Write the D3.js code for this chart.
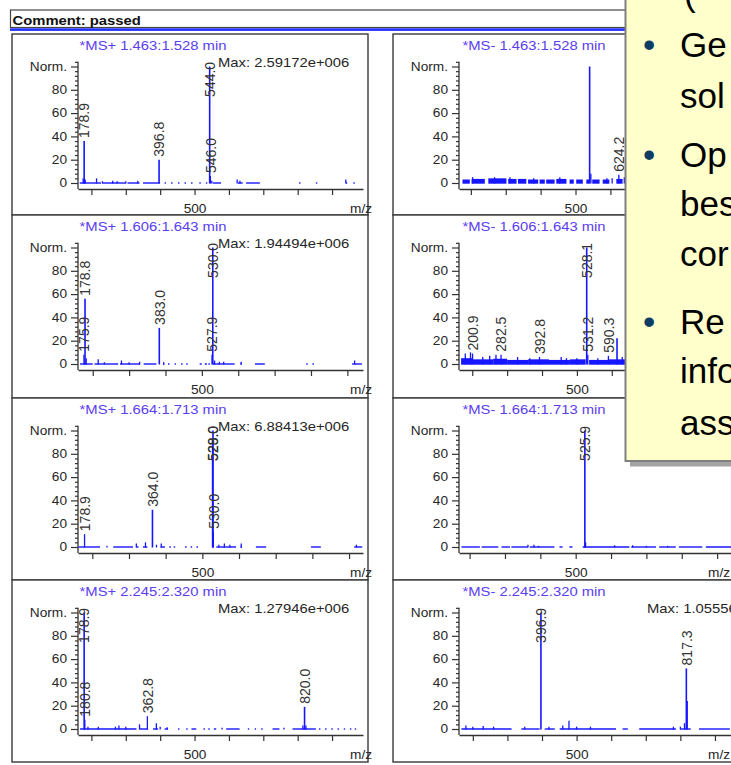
<!DOCTYPE html>
<html>
<head>
<meta charset="utf-8">
<script src="https://cdn.jsdelivr.net/npm/d3@7"></script>
<style>
body { margin: 0; background: #fff; }
svg { display: block; font-family: Arial, "Liberation Sans", sans-serif; }
</style>
</head>
<body>
<div id="root"></div>
<script>
const WIDTH = 731;
const HEIGHT = 765;
const PANEL_TOPS = [34, 215, 398, 580, 762];
const COL_LEFT = [12, 393];
const PANEL_W = 356;
const AX = {left: 66, right: 351, zero: 149, full: 32.5, base: 155};
const MAX_X = [206, 254];
const MZ_X = [338, 315];
const STRETCH = 1.14;
const BLUE = "#1616ff";
const INK = "#262626";
const NOTE_LEFT = 625.5;
const NOTE_BOTTOM = 461;

// panel titles, max intensities and m/z extents (row by row, MS+ left, MS- right)
const titles = [
    "*MS+ 1.463:1.528 min", "*MS- 1.463:1.528 min",
    "*MS+ 1.606:1.643 min", "*MS- 1.606:1.643 min",
    "*MS+ 1.664:1.713 min", "*MS- 1.664:1.713 min",
    "*MS+ 2.245:2.320 min", "*MS- 2.245:2.320 min"
];
const maxLabels = [
    "Max: 2.59172e+006", "",
    "Max: 1.94494e+006", "",
    "Max: 6.88413e+006", "",
    "Max: 1.27946e+006", "Max: 1.05556e+006"
];
const mzRanges = [
    [161, 990], [166, 983],
    [159.5, 943], [162, 979],
    [161, 938], [170, 976],
    [161, 990], [160, 984]
];

// peaks: [m/z, % intensity, labelled]
const pos1463 = [[176, 4], [178.9, 36, 1], [182, 3], [215, 4], [232, 1.5], [262, 2], [275, 1.5], [300, 1.5],
    [335, 2], [396.8, 20, 1], [544.0, 100, 1], [546.0, 6, 1], [550, 2], [624, 3], [632, 2], [940, 3]];
const neg1463 = [[205, 5], [268, 5], [312, 5], [380, 4], [455, 5], [540.5, 100], [544, 8], [590, 4],
    [605, 4], [624.2, 7, 1], [640, 5]];
const pos1606 = [[175.9, 8, 1], [178.8, 56, 1], [182, 5], [215, 4], [232, 1.5], [279, 3], [300, 1.5],
    [329, 2], [383.0, 31, 1], [395, 1.5], [527.9, 8, 1], [530.0, 100, 1], [535, 3], [548, 2], [560, 2],
    [608, 2], [920, 3]];
const neg1606 = [[180, 9], [195, 10], [200.9, 9, 1], [230, 6], [250, 7], [268, 8], [282.5, 8, 1], [330, 6],
    [365, 5], [392.8, 6, 1], [455, 6], [470, 5], [500, 5], [528.1, 100, 1], [531.2, 8, 1], [560, 5],
    [590.3, 7, 1], [615, 22], [630, 6]];
const pos1664 = [[178.9, 11, 1], [240, 1], [320, 3], [345, 4], [364.0, 32, 1], [375, 2], [388, 3],
    [528.0, 92, 1], [529.0, 100, 1], [530.0, 13, 1], [545, 2], [560, 3], [575, 2], [606, 3], [920, 2]];
const neg1664 = [[365, 2], [382, 2], [395, 1], [525.9, 100, 1], [528, 4], [610, 1.5], [661, 1.5],
    [700, 1], [760, 1]];
const pos2245 = [[178.9, 100, 1], [180.8, 8, 1], [190, 2], [220, 2], [270, 2], [280, 3], [300, 2], [340, 4],
    [362.8, 11, 1], [389, 5], [400, 2], [420, 1.5], [580, 1], [760, 1], [815, 3], [820.0, 19, 1], [824, 3]];
const neg2245 = [[180, 3], [200, 2], [230, 2.5], [260, 2], [350, 2], [396.9, 100, 1], [420, 2], [460, 3],
    [478, 7], [500, 2], [540, 2], [780, 2], [800, 2], [812, 5], [817.3, 52, 1], [819.5, 24]];

// baseline traces: [from m/z, to m/z, noise height %]
const pos1463Base = [[166, 228], [232, 300], [305, 340], [350, 399], [413, 417], [432, 436], [452, 456],
    [471, 475], [490, 494], [514, 518], [533, 537], [553, 577], [626, 640], [650, 690], [804, 808],
    [853, 857], [940, 944], [962, 966]];
const neg1463Base = [[176, 197, 3], [202, 240, 3.5], [250, 302, 4], [307, 331, 3.5], [335, 359, 3.5],
    [364, 393, 3], [397, 412, 3], [416, 440, 3], [445, 474, 3.5], [483, 495, 3], [502, 521, 3],
    [531, 540, 3], [548, 569, 3], [578, 597, 3], [617, 635, 3.5], [645, 700, 3], [710, 760, 3],
    [770, 850, 3], [860, 975, 3]];
const pos1606Base = [[165, 200], [205, 270], [275, 330], [340, 375], [393, 397], [407, 411], [425, 429],
    [443, 447], [457, 461], [494, 500], [508, 514], [518, 522], [530, 590], [606, 610], [646, 673],
    [787, 791], [804, 808], [913, 940]];
const neg1606Base = [[168, 200, 5], [200, 260, 4], [260, 300, 4.5], [300, 360, 3.5], [360, 420, 4],
    [420, 480, 3.5], [480, 525, 4], [535, 590, 3.5], [590, 640, 4], [640, 700, 4], [700, 975, 3.5]];
const pos1664Base = [[162, 221], [257, 311], [320, 326], [338, 350], [386, 398], [410, 414], [422, 426],
    [453, 457], [468, 472], [484, 488], [538, 592], [604, 608], [646, 674], [796, 823], [914, 936]];
const neg1664Base = [[177, 229], [234, 281], [290, 314], [318, 365], [370, 440], [454, 463], [482, 491],
    [520, 652], [657, 727], [736, 783], [792, 858], [868, 975]];
const pos2245Base = [[167, 331], [340, 365], [379, 394], [413, 423], [452, 456], [476, 480], [491, 505],
    [526, 530], [540, 544], [556, 563], [592, 631], [655, 659], [675, 679], [694, 698], [727, 747],
    [785, 853], [862, 866], [880, 884], [898, 902], [916, 920], [934, 938], [952, 956], [966, 970]];
const neg2245Base = [[167, 312], [340, 393], [408, 437], [451, 614], [633, 648], [681, 787], [800, 830],
    [854, 943]];

const spectra = [pos1463, neg1463, pos1606, neg1606, pos1664, neg1664, pos2245, neg2245];
const baselines = [pos1463Base, neg1463Base, pos1606Base, neg1606Base, pos1664Base, neg1664Base,
    pos2245Base, neg2245Base];

// slide call-out laid over the report
const noteLines = [["(", false], ["Ge", true], ["sol", false], ["Op", true], ["bes", false],
    ["cor", false], ["Re", true], ["info", false], ["ass", false]];
const NOTE_BASELINES = [6, 57, 108, 167, 216, 266, 334, 383, 435];

const svg = d3.select("#root")
    .append("svg")
    .attr("width", WIDTH)
    .attr("height", HEIGHT);

svg.append("rect").attr("width", WIDTH).attr("height", HEIGHT).attr("fill", "#fff");

function wideText(sel, x, y, txt, size, anchor, color) {
    return sel.append("text")
        .attr("transform", `translate(${x},${y}) scale(${STRETCH},1)`)
        .attr("font-size", size)
        .attr("text-anchor", anchor || "start")
        .attr("fill", color || INK)
        .text(txt);
}

// comment bar
svg.append("rect")
    .attr("x", 10.5).attr("y", 10).attr("width", 720).attr("height", 17.5)
    .attr("fill", "#fff").attr("stroke", "#444").attr("stroke-width", 1.2);
svg.append("rect")
    .attr("x", 10).attr("y", 28.3).attr("width", 720).attr("height", 2.6)
    .attr("fill", "#2030ff");
wideText(svg, 12.5, 24.5, "Comment: passed", 13, "start", "#111").attr("font-weight", "bold");

function drawPanel(i) {
    const col = i % 2;
    const row = Math.floor(i / 2);
    const top = PANEL_TOPS[row];
    const left = COL_LEFT[col];
    const g = svg.append("g")
        .attr("transform", `translate(${left},${top})`);

    g.append("rect")
        .attr("width", PANEL_W)
        .attr("height", PANEL_TOPS[row + 1] - top)
        .attr("fill", "#fff")
        .attr("stroke", "#3a3a3a")
        .attr("stroke-width", 1.4);

    const x = d3.scaleLinear().domain(mzRanges[i]).range([AX.left, AX.right]);
    const y = d3.scaleLinear().domain([0, 100]).range([AX.zero, AX.full]);

    // y axis with minor ticks every 4 %
    const yAxis = d3.axisLeft(y.copy().domain([0, 104]).range([y(0), y(104)]))
        .tickValues(d3.range(0, 105, 4))
        .tickSize(3)
        .tickSizeOuter(0)
        .tickFormat(d => d % 20 === 0 ? (d === 100 ? "Norm." : d) : "");
    const ya = g.append("g")
        .attr("transform", `translate(${AX.left},0)`)
        .call(yAxis);
    ya.select(".domain").remove();
    ya.selectAll(".tick line").attr("stroke", "#333").attr("stroke-width", 1.2);
    ya.selectAll(".tick").filter(d => d % 20 === 0).select("line").attr("x2", -7);
    ya.selectAll(".tick text")
        .attr("x", null)
        .attr("transform", `translate(-11,0) scale(${STRETCH},1)`)
        .attr("font-size", 12)
        .attr("font-family", null)
        .attr("fill", INK);
    g.append("line")
        .attr("x1", AX.left).attr("x2", AX.left)
        .attr("y1", y(104)).attr("y2", AX.base)
        .attr("stroke", "#333").attr("stroke-width", 1.3);

    // x axis, ticks every 100 m/z, only 500 labelled
    const xAxis = d3.axisBottom(x)
        .tickValues(d3.range(200, mzRanges[i][1], 100))
        .tickSize(6)
        .tickSizeOuter(0)
        .tickPadding(9.5)
        .tickFormat(d => d === 500 ? "500" : "");
    const xa = g.append("g")
        .attr("transform", `translate(0,${AX.base})`)
        .call(xAxis);
    xa.select(".domain").attr("stroke", "#333").attr("stroke-width", 1.3);
    xa.selectAll(".tick line").attr("stroke", "#333").attr("stroke-width", 1.2);
    xa.selectAll(".tick text")
        .attr("transform", `scale(${STRETCH},1)`)
        .attr("font-size", 12)
        .attr("font-family", null)
        .attr("fill", INK);

    // unit label, skipped where the call-out covers it
    const mzLeft = left + MZ_X[col];
    if (!(mzLeft > NOTE_LEFT && top + 179 < NOTE_BOTTOM)) {
        wideText(g, MZ_X[col], 179, "m/z", 12);
    }

    // baseline trace and noise
    const base = baselines[i];
    g.selectAll(".trace")
        .data(base.filter(d => !d[2]))
        .join("line")
        .attr("class", "trace")
        .attr("x1", d => x(d[0]))
        .attr("x2", d => x(Math.min(d[1], mzRanges[i][1])))
        .attr("y1", y(0)).attr("y2", y(0))
        .attr("stroke", BLUE).attr("stroke-width", 1.4);
    g.selectAll(".noise")
        .data(base.filter(d => d[2]))
        .join("rect")
        .attr("class", "noise")
        .attr("x", d => x(d[0]))
        .attr("width", d => x(Math.min(d[1], mzRanges[i][1])) - x(d[0]))
        .attr("y", d => y(d[2]))
        .attr("height", d => y(0) - y(d[2]) + 0.7)
        .attr("fill", BLUE);

    // peaks
    const peaks = spectra[i];
    g.selectAll(".peak")
        .data(peaks)
        .join("line")
        .attr("class", "peak")
        .attr("x1", d => x(d[0])).attr("x2", d => x(d[0]))
        .attr("y1", y(0) + 0.5).attr("y2", d => y(d[1]))
        .attr("stroke", BLUE)
        .attr("stroke-width", d => d[1] > 15 ? 1.6 : 1.3);

    // peak labels, rotated, kept inside the plot top
    peaks.filter(d => d[2]).forEach(d => {
        const lab = g.append("text")
            .attr("font-size", 14)
            .attr("fill", "#333")
            .attr("dy", "0.38em")
            .text(d[0].toFixed(1));
        const len = lab.node().getComputedTextLength();
        let bottom = y(d[1]) - 3;
        if (bottom - len < y(104)) bottom = y(104) + len;
        lab.attr("transform", `translate(${x(d[0])},${bottom}) rotate(-90)`);
    });

    wideText(g, 141, 15.6, titles[i], 13, "middle", "#5a3ef0");
    if (maxLabels[i]) wideText(g, MAX_X[col], 32.5, maxLabels[i], 13);
}

d3.range(8).forEach(drawPanel);

// call-out box
const note = svg.append("g");
note.append("rect")
    .attr("x", NOTE_LEFT + 4.5).attr("y", -10).attr("width", 200).attr("height", NOTE_BOTTOM + 15.5)
    .attr("fill", "#a3a3a3");
note.append("rect")
    .attr("x", NOTE_LEFT).attr("y", -10).attr("width", 200).attr("height", NOTE_BOTTOM + 10)
    .attr("fill", "#ffffcc").attr("stroke", "#7f7f7f").attr("stroke-width", 2);
noteLines.forEach((d, k) => {
    if (d[1]) {
        note.append("text")
            .attr("x", 643).attr("y", NOTE_BASELINES[k])
            .attr("font-size", 35).attr("fill", "#0e3d63")
            .text("\u2022");
    }
    note.append("text")
        .attr("x", d[0] === "(" ? 684 : 680).attr("y", NOTE_BASELINES[k])
        .attr("font-size", 35).attr("fill", "#000")
        .text(d[0]);
});
</script>
</body>
</html>
